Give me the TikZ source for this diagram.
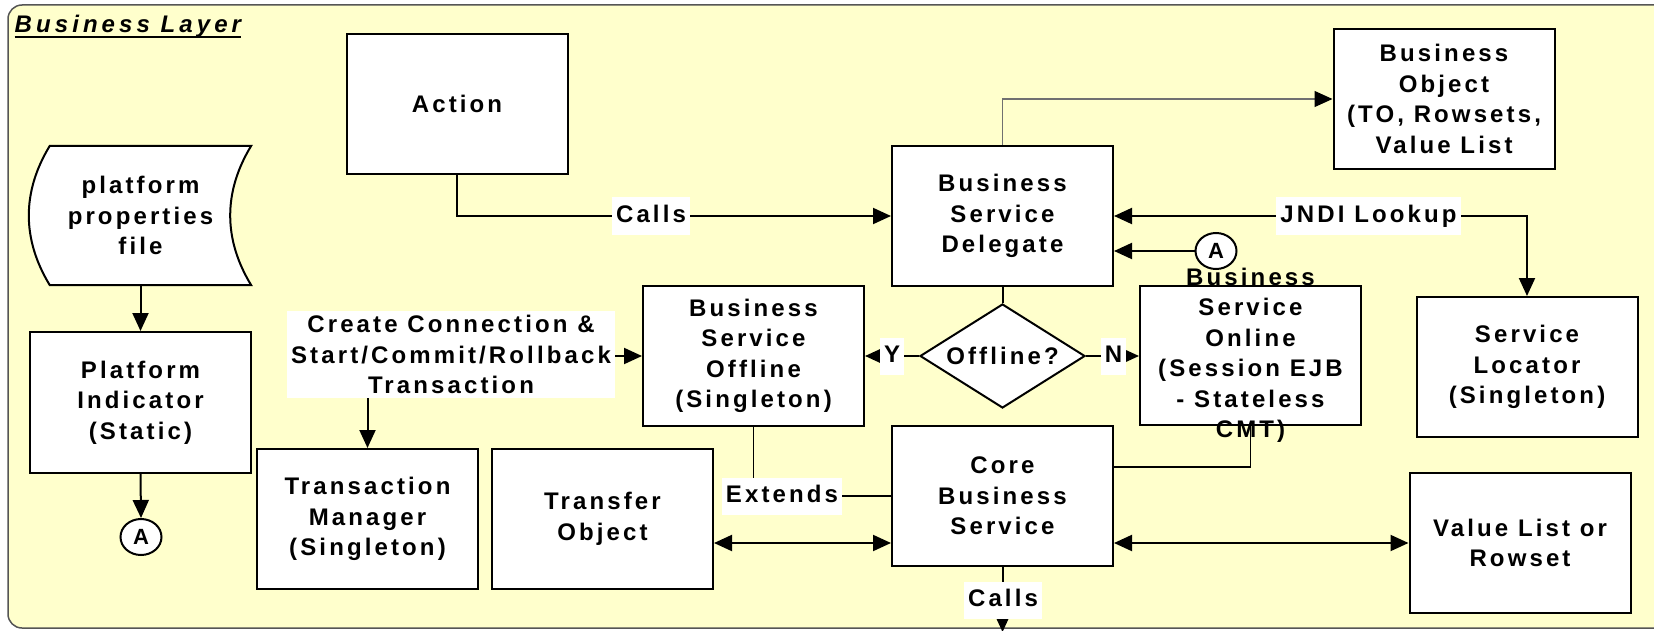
\documentclass[tikz,border=0pt]{standalone}
\usepackage{fontspec}
\setmainfont{Liberation Sans}[LetterSpace=13]
\usetikzlibrary{arrows.meta,shapes.geometric}
\definecolor{layerbg}{HTML}{FFFFCC}
\definecolor{framec}{HTML}{555555}
\definecolor{thinline}{HTML}{707070}
\begin{document}
\begin{tikzpicture}[x=1pt,y=-1pt,
  every node/.style={font=\fontsize{24}{30.5}\selectfont\bfseries},
  box/.style={draw, fill=white, line width=2pt, minimum width=221pt, minimum height=140pt, inner sep=0pt, align=center},
  txt/.style={inner sep=0pt, align=center},
  lab/.style={fill=white, inner xsep=4pt, inner ysep=7pt, text height=18pt, text depth=5pt},
  conn/.style={line width=2pt},
  arr/.style={conn, -{Triangle[length=18pt,width=16pt]}},
  darr/.style={conn, {Triangle[length=18pt,width=16pt]}-{Triangle[length=18pt,width=16pt]}},
  circ/.style={draw, fill=white, line width=2pt, ellipse, minimum width=41pt, minimum height=36pt, inner sep=0pt, font=\fontsize{22}{26}\selectfont\bfseries}
]
\useasboundingbox (0,0) rectangle (1654,631);
\clip (0,0) rectangle (1654,631);
\draw[framec, line width=1.5pt, fill=layerbg, rounded corners=14pt] (8,5) rectangle (1720,628);

% title
\node[anchor=base west, inner sep=0pt, font=\fontsize{24}{28}\selectfont\bfseries\itshape\addfontfeatures{LetterSpace=17}] (bl) at (14.5,33) {Business Layer};
\draw[line width=1.5pt] ([yshift=-4pt]bl.base west) -- ([yshift=-4pt]bl.base east);

% boxes
\node[box] (action) at (457,104) {Action};
\node[box] (bsd) at (1002.5,216) {Business\\Service\\Delegate};
\node[box] (bo) at (1444,99) {Business\\Object\\(TO, Rowsets,\\Value List};
\node[box] (sl) at (1527,367) {Service\\Locator\\(Singleton)};
\node[box] (bsoff) at (753.5,356) {Business\\Service\\Offline\\(Singleton)};
\node[box, minimum height=139pt] (bson) at (1250.5,355.5) {};
\node[txt] (bsontxt) at (bson) {Business\\Service\\Online\\(Session EJB\\- Stateless\\CMT)};
\node[box] (cbs) at (1002.5,496) {Core\\Business\\Service};
\node[box] (vl) at (1520,543) {Value List or\\Rowset};
\node[box] (tm) at (367.5,519) {Transaction\\Manager\\(Singleton)};
\node[box] (to) at (602.5,519) {Transfer\\Object};
\node[box, minimum height=141pt] (pi) at (140.5,402.5) {Platform\\Indicator\\(Static)};

% platform properties file (stored data shape)
\node[minimum width=221pt, minimum height=139pt, inner sep=0pt] (pf) at (140.5,215.5) {};
\filldraw[fill=white, line width=2pt]
  ([xshift=20pt]pf.north west) -- (pf.north east)
  .. controls ([xshift=-28pt,yshift=-46pt]pf.north east) and ([xshift=-28pt,yshift=46pt]pf.south east) .. (pf.south east)
  -- ([xshift=20pt]pf.south west)
  .. controls ([xshift=-8pt,yshift=46pt]pf.south west) and ([xshift=-8pt,yshift=-46pt]pf.north west) .. cycle;
\node[txt] (pftxt) at (pf) {platform\\properties\\file};

% decision
\node[draw, fill=white, line width=2pt, diamond, minimum width=165pt, minimum height=104pt, inner sep=0pt] (dia) at (1002.5,356) {};
\node[txt] (diatxt) at (dia) {Offline?};

% connectors
\node[circ] (a1) at (141,537) {A};
\node[circ] (a2) at (1216,251) {A};
\node[fill=white, inner xsep=4pt, inner ysep=4pt, align=center] (cc) at (451,354.5) {Create Connection \&\\Start/Commit/Rollback\\Transaction};

\draw[arr] (action.south) |- (bsd.west);
\draw[thinline, line width=1.2pt, -{Triangle[length=18pt,width=16pt,color=black]}] (bsd.north) |- (bo.west);
\draw[darr] (bsd.east) -| (sl.north);
\draw[arr] (a2.west) -- (a2.west -| bsd.east);
\draw[conn] (bsd.south) -- (dia.north);
\draw[arr] (dia.west) -- (bsoff.east);
\draw[arr] (dia.east) -- (dia.east -| bson.west);
\draw[arr] (bsoff.west -| cc.east) -- (bsoff.west);
\draw[arr] (tm.north |- cc.south) -- (tm.north);
\draw[arr] (pf.south) -- (pi.north);
\draw[arr] (pi.south) -- (a1.north);
\draw[line width=1.5pt] (bsoff.south) |- (cbs.west);
\draw[darr] (to.east |- vl.west) -- (cbs.west |- vl.west);
\draw[darr] (cbs.east |- vl.west) -- (vl.west);
\coordinate (rowA) at (0,467);
\draw[line width=1.5pt] (cbs.east |- rowA) -| (bson.south);
\coordinate (outc) at (1002.5,632);
\draw[arr] (cbs.south) -- (outc);

% labels
\node[lab] (calls1) at (651,216) {Calls};
\node[lab] (jndi) at (1368.5,216) {JNDI Lookup};
\node[lab] (yl) at (892,356) {Y};
\node[lab] (nl) at (1113.5,356) {N};
\node[lab] (ext) at (782,496) {Extends};
\node[lab] (calls2) at (1003,600) {Calls};
\end{tikzpicture}
\end{document}
